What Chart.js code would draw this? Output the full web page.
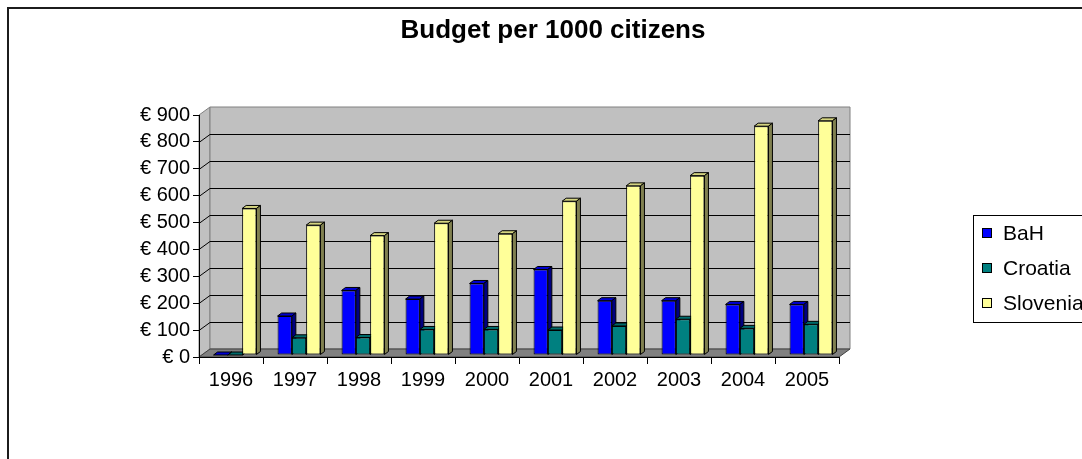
<!DOCTYPE html>
<html>
<head>
<meta charset="utf-8">
<title>Budget per 1000 citizens</title>
<script src="https://cdn.jsdelivr.net/npm/chart.js@4.4.0/dist/chart.umd.min.js"></script>
<style>
  html, body { margin: 0; padding: 0; background: #fff; overflow: hidden; }
  #frame {
    position: absolute; left: 7px; top: 7px;
    width: 1100px; height: 470px;
    border: 2px solid #1c1c1c; background: #fff;
  }
  #budgetChart { display: block; }
</style>
</head>
<body>
<div id="frame"><canvas id="budgetChart" width="1088" height="460"></canvas></div>
<script>
const years = ['1996', '1997', '1998', '1999', '2000', '2001', '2002', '2003', '2004', '2005'];
const bahValues = [0, 145, 240, 208, 266, 318, 202, 202, 188, 188];
const croatiaValues = [0, 64, 65, 95, 95, 93, 108, 133, 99, 114];
const sloveniaValues = [545, 483, 444, 490, 451, 572, 629, 667, 851, 871];
const yTicks = [0, 100, 200, 300, 400, 500, 600, 700, 800, 900];

const FONT = "'Liberation Sans', Arial, sans-serif";

// depth of the box the bars stand in, and of the bars themselves
const WALL_DX = 11, WALL_DY = -8;
const BAR_DX = 4, BAR_DY = -2;
const BAR_EX = 4, BAR_EY = -3;

const faceColors = [
    { front: '#0000ff', top: '#0000d0', side: '#000080' },
    { front: '#008080', top: '#006a6a', side: '#004040' },
    { front: '#ffff99', top: '#d4d480', side: '#808050' }
];

function poly(ctx, pts, fill, stroke) {
    ctx.beginPath();
    ctx.moveTo(pts[0][0], pts[0][1]);
    for (let i = 1; i < pts.length; i++) ctx.lineTo(pts[i][0], pts[i][1]);
    ctx.closePath();
    if (fill) { ctx.fillStyle = fill; ctx.fill(); }
    if (stroke) { ctx.strokeStyle = stroke; ctx.stroke(); }
}

// side wall, back wall and floor with the gridlines
const wallPlugin = {
    id: 'walls3d',
    beforeDraw(chart) {
        const { ctx, chartArea } = chart;
        const L = chartArea.left, R = chartArea.right, T = chartArea.top, B = chartArea.bottom;
        const dx = WALL_DX, dy = WALL_DY;
        const yScale = chart.scales.y;
        ctx.save();
        ctx.lineWidth = 1;
        poly(ctx, [[L, T], [L + dx, T + dy], [L + dx, B + dy], [L, B]], '#c0c0c0', '#808080');
        poly(ctx, [[L + dx, T + dy], [R + dx, T + dy], [R + dx, B + dy], [L + dx, B + dy]], '#c0c0c0', '#808080');
        poly(ctx, [[L, B], [L + dx, B + dy], [R + dx, B + dy], [R, B]], '#808080', '#404040');

        ctx.strokeStyle = '#000';
        yTicks.forEach(v => {
            if (v === 0 || v === yTicks[yTicks.length - 1]) return;
            const py = Math.round(yScale.getPixelForValue(v)) + 0.5;
            ctx.beginPath();
            ctx.moveTo(L, py);
            ctx.lineTo(L + dx, py + dy);
            ctx.lineTo(R + dx, py + dy);
            ctx.stroke();
        });
        ctx.restore();
    }
};

// top and side faces of every bar; the front faces come from Chart.js
const barPlugin = {
    id: 'bars3d',
    beforeDatasetsDraw(chart) {
        const ctx = chart.ctx;
        const metas = chart.data.datasets.map((_, i) => chart.getDatasetMeta(i));
        ctx.save();
        ctx.translate(BAR_DX, BAR_DY);
        ctx.lineWidth = 1;
        years.forEach((_, idx) => {
            metas.forEach((meta, di) => {
                const el = meta.data[idx];
                if (!el) return;
                const { x, y, base, width } = el.getProps(['x', 'y', 'base', 'width'], true);
                const l = x - width / 2, r = x + width / 2;
                const c = faceColors[di];
                poly(ctx, [[l, y], [l + BAR_EX, y + BAR_EY], [r + BAR_EX, y + BAR_EY], [r, y]], c.top, '#000');
                poly(ctx, [[r, y], [r + BAR_EX, y + BAR_EY], [r + BAR_EX, base + BAR_EY], [r, base]], c.side, '#000');
            });
        });
        ctx.restore();
        ctx.save();
        ctx.translate(BAR_DX, BAR_DY);
    },
    afterDatasetsDraw(chart) {
        chart.ctx.restore();
    }
};

// framed legend on the right
const legendPlugin = {
    id: 'boxLegend',
    afterDraw(chart) {
        const ctx = chart.ctx;
        const bx = 964, by = 206, bh = 107;
        ctx.save();
        ctx.lineWidth = 1;
        ctx.strokeStyle = '#000';
        ctx.strokeRect(bx + 0.5, by + 0.5, chart.width, bh);
        ctx.font = '21px ' + FONT;
        ctx.textBaseline = 'middle';
        ctx.textAlign = 'left';
        chart.data.datasets.forEach((ds, i) => {
            const cy = 224 + i * 35;
            ctx.fillStyle = ds.backgroundColor;
            ctx.fillRect(973, cy - 4, 9, 9);
            ctx.strokeRect(973.5, cy - 4.5, 9, 9);
            ctx.fillStyle = '#000';
            ctx.fillText(ds.label, 994, cy + 1);
        });
        ctx.restore();
    }
};

function series(label, data, idx) {
    return {
        label: label,
        data: data,
        backgroundColor: faceColors[idx].front,
        borderColor: '#000',
        borderWidth: 1,
        borderSkipped: false,
        barPercentage: 1,
        categoryPercentage: 0.67
    };
}

new Chart(document.getElementById('budgetChart'), {
    type: 'bar',
    data: {
        labels: years,
        datasets: [
            series('BaH', bahValues, 0),
            series('Croatia', croatiaValues, 1),
            series('Slovenia', sloveniaValues, 2)
        ]
    },
    options: {
        responsive: false,
        animation: false,
        layout: { padding: { left: 0, right: 0, top: 0, bottom: 72 } },
        plugins: {
            legend: { display: false },
            tooltip: { enabled: false },
            title: {
                display: true,
                text: 'Budget per 1000 citizens',
                color: '#000',
                font: { family: FONT, size: 26, weight: 'bold' },
                padding: { top: 6, bottom: 68.8 }
            }
        },
        scales: {
            x: {
                grid: { offset: true, drawOnChartArea: false, drawTicks: true, tickLength: 7, color: '#000' },
                border: { display: true, color: '#000', width: 1 },
                ticks: { color: '#000', padding: 4, font: { family: FONT, size: 20 }, maxRotation: 0, autoSkip: false },
                afterFit(scale) { scale.height = 40; }
            },
            y: {
                min: 0,
                max: 900,
                grid: { drawOnChartArea: false, drawTicks: true, tickLength: 6, color: '#000' },
                border: { display: true, color: '#000', width: 1 },
                ticks: {
                    stepSize: 100,
                    padding: 3,
                    autoSkip: false,
                    color: '#000',
                    font: { family: FONT, size: 20 },
                    callback: v => '€ ' + v
                },
                afterFit(scale) { scale.width = 190; }
            },
            // empty axis on the right keeps room for the legend
            spacer: {
                position: 'right',
                min: 0,
                max: 900,
                grid: { display: false },
                border: { display: false },
                ticks: { display: false },
                afterFit(scale) { scale.width = 258; }
            }
        }
    },
    plugins: [wallPlugin, barPlugin, legendPlugin]
});
</script>
</body>
</html>
